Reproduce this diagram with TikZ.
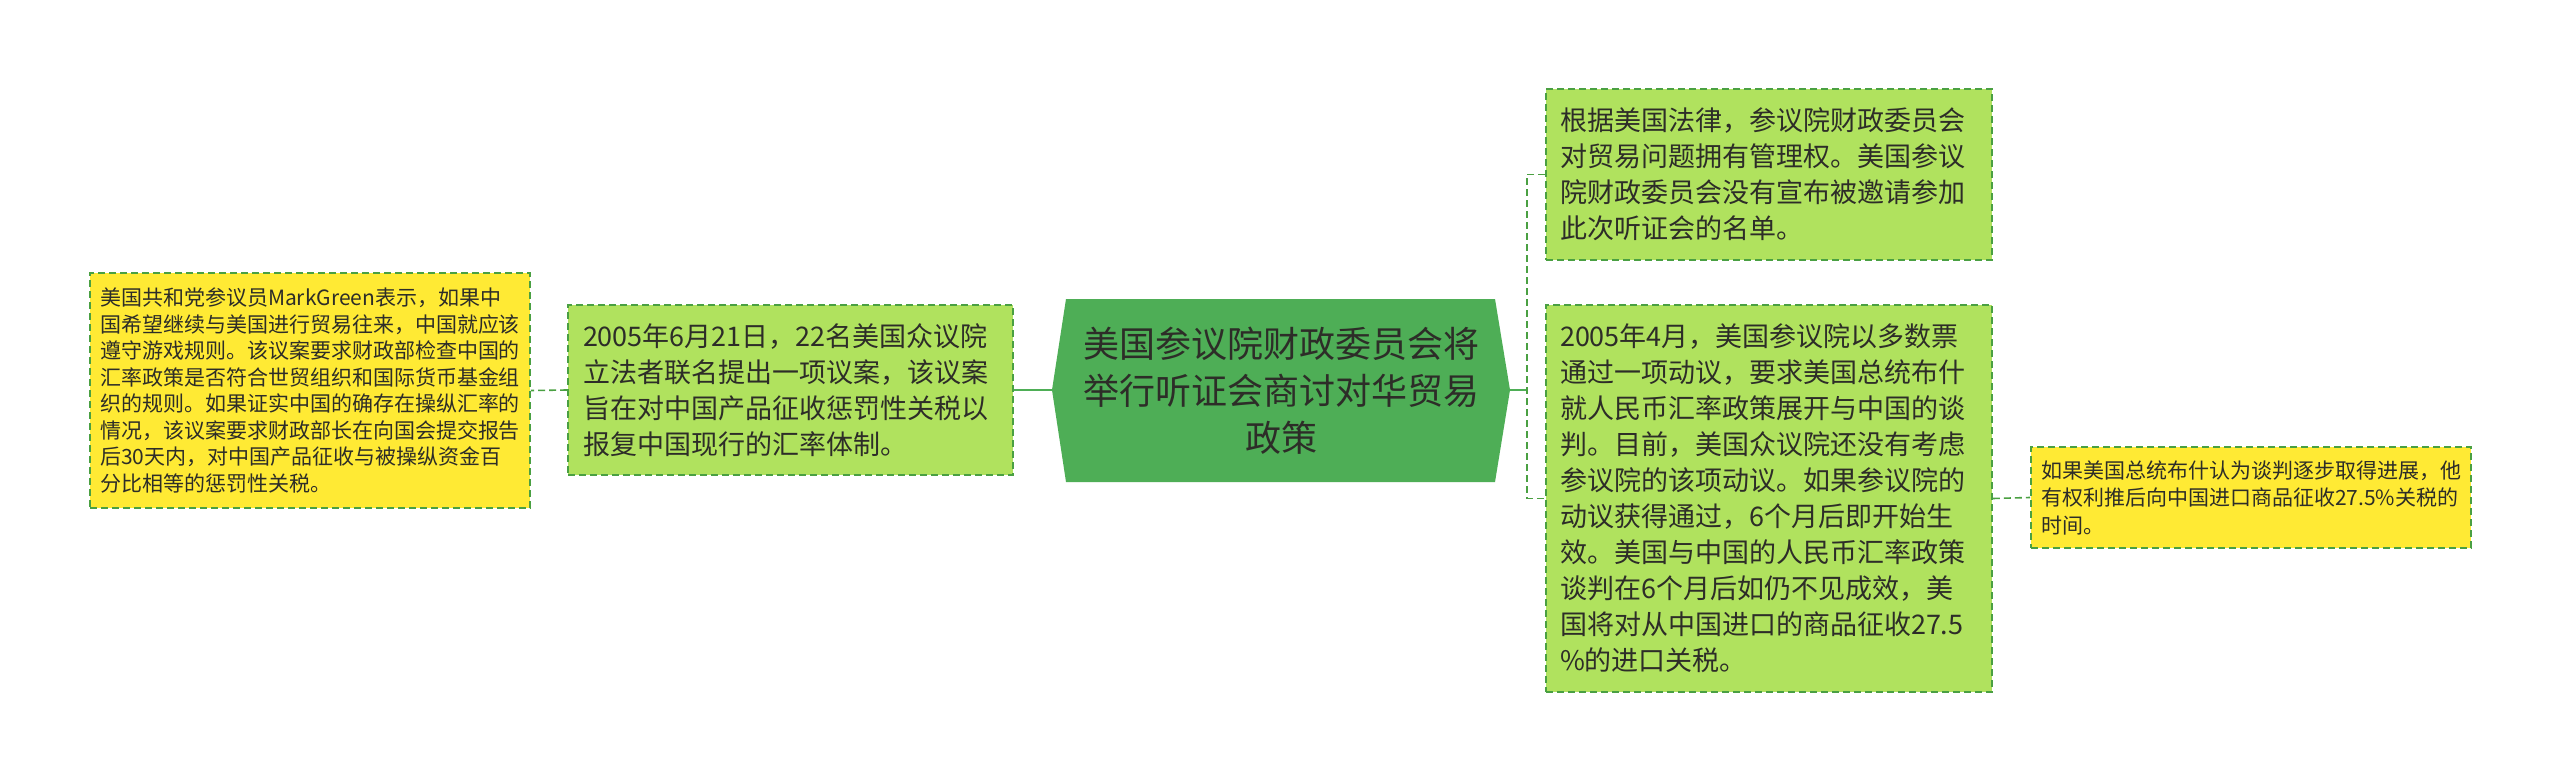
\documentclass[tikz,border=0pt]{standalone}
\usepackage{fontspec}
\newfontfamily\cjk{Noto Sans CJK SC}
\definecolor{lightgreen}{RGB}{176,226,94}
\definecolor{centergreen}{RGB}{78,174,86}
\definecolor{bordergreen}{RGB}{74,160,66}
\definecolor{boxyellow}{RGB}{255,234,52}
\definecolor{textdark}{RGB}{45,45,40}
\begin{document}
\begin{tikzpicture}[x=1pt,y=-1pt,
  boxbase/.style={draw=bordergreen, line width=1.6pt, dash pattern=on 7pt off 4pt,
    text=textdark, align=left, inner ysep=0pt},
  gbox/.style={boxbase, fill=lightgreen, font=\cjk\fontsize{27}{36}\selectfont},
  ybox/.style={boxbase, fill=boxyellow, font=\cjk\fontsize{21}{26.5}\selectfont},
  dashline/.style={draw=bordergreen, line width=1.6pt, dash pattern=on 7pt off 4pt},
  solidline/.style={draw=centergreen, line width=2pt},
  centertext/.style={font=\cjk\fontsize{36}{47}\selectfont, text=textdark, align=center, inner sep=0pt}
]
\fill[white] (0,0) rectangle (2560,781);
\useasboundingbox (0,0) rectangle (2560,781);

% centre hexagon
\fill[centergreen] (1066,299) -- (1495,299) -- (1510,390) -- (1495,482) -- (1066,482) -- (1052,390) -- cycle;
\coordinate (cl) at (1052,390);
\coordinate (cr) at (1510,390);
\coordinate (j) at (1527,390);
\node[centertext] (c) at (1281,391) {美国参议院财政委员会将\\举行听证会商讨对华贸易\\政策};

% left side
\node[gbox, inner xsep=15pt, text width=415pt, minimum width=445pt, minimum height=170pt] (gl) at (790.5,390)
 {2005年6月21日，22名美国众议院\\立法者联名提出一项议案，该议案\\旨在对中国产品征收惩罚性关税以\\报复中国现行的汇率体制。};
\node[ybox, inner xsep=10pt, text width=420pt, minimum width=440pt, minimum height=235pt] (yl) at (310,390.5)
 {美国共和党参议员MarkGreen表示，如果中\\国希望继续与美国进行贸易往来，中国就应该\\遵守游戏规则。该议案要求财政部检查中国的\\汇率政策是否符合世贸组织和国际货币基金组\\织的规则。如果证实中国的确存在操纵汇率的\\情况，该议案要求财政部长在向国会提交报告\\后30天内，对中国产品征收与被操纵资金百\\分比相等的惩罚性关税。};

% right side
\node[gbox, inner xsep=14pt, text width=418pt, minimum width=446pt, minimum height=171pt] (b1) at (1769,174.5)
 {根据美国法律，参议院财政委员会\\对贸易问题拥有管理权。美国参议\\院财政委员会没有宣布被邀请参加\\此次听证会的名单。};
\node[gbox, inner xsep=14pt, text width=418pt, minimum width=446pt, minimum height=387pt] (b2) at (1769,498.5)
 {2005年4月，美国参议院以多数票\\通过一项动议，要求美国总统布什\\就人民币汇率政策展开与中国的谈\\判。目前，美国众议院还没有考虑\\参议院的该项动议。如果参议院的\\动议获得通过，6个月后即开始生\\效。美国与中国的人民币汇率政策\\谈判在6个月后如仍不见成效，美\\国将对从中国进口的商品征收27.5\\\%的进口关税。};
\node[ybox, inner xsep=10pt, text width=420pt, minimum width=440pt, minimum height=101pt, font=\cjk\fontsize{21}{27.5}\selectfont] (yr) at (2251,497.5)
 {如果美国总统布什认为谈判逐步取得进展，他\\有权利推后向中国进口商品征收27.5\%关税的\\时间。};

% connectors
\draw[solidline] (cl) -- (gl.east);
\draw[dashline] (gl.west) -- (yl.east);
\draw[solidline] (cr) -- (j);
\draw[dashline] (b1.west) -- (b1.west -| j) -- (b2.west -| j) -- (b2.west);
\draw[dashline] (b2.east) -- (yr.west);
\end{tikzpicture}
\end{document}
